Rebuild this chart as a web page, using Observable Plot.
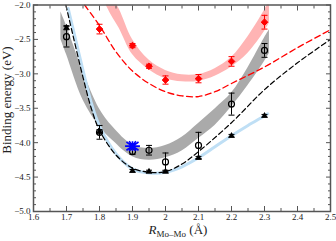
<!DOCTYPE html>
<html><head><meta charset="utf-8">
<script src="https://cdn.jsdelivr.net/npm/d3@7"></script>
<script src="https://cdn.jsdelivr.net/npm/@observablehq/plot@0.6"></script>
<style>body{margin:0;background:#fff}#chart{width:336px;height:241px}</style>
</head><body><div id="chart"></div>
<script>
// ticks
const xMajor = [1.6,1.7,1.8,1.9,2.0,2.1,2.2,2.3,2.4,2.5];
const xMinor = [1.65,1.75,1.85,1.95,2.05,2.15,2.25,2.35,2.45];
const yMajor = [-5,-4.5,-4,-3.5,-3,-2.5,-2];
const yMinor = [-4.9,-4.8,-4.7,-4.6,-4.4,-4.3,-4.2,-4.1,-3.9,-3.8,-3.7,-3.6,-3.4,-3.3,-3.2,-3.1,-2.9,-2.8,-2.7,-2.6,-2.4,-2.3,-2.2,-2.1];

// red diamonds
const redX = [1.8,1.9,1.95,2.0,2.1,2.2,2.3];
const redY = [-2.35,-2.59,-2.89,-3.09,-3.07,-2.82,-2.25];
const redErr = [0.07,0.03,0.03,0.06,0.06,0.07,0.1];
// open circles
const circX = [1.7,1.8,1.9,1.95,2.0,2.1,2.2,2.3];
const circY = [-2.46,-3.85,-4.13,-4.11,-4.28,-4.04,-3.44,-2.66];
const circErr = [0.15,0.1,0.04,0.07,0.13,0.19,0.16,0.1];
// triangles
const triX = [1.7,1.8,1.9,1.95,2.0,2.1,2.2,2.3];
const triY = [-2.33,-3.84,-4.41,-4.42,-4.42,-4.22,-3.90,-3.61];
const triErr = [0.03,0.03,0.02,0.02,0.02,0.02,0.02,0.02];
// blue star
const starX = [1.9];
const starY = [-4.05];

// pink band
const pinkX  = [1.82,1.835,1.86,1.9,1.95,2.0,2.05,2.1,2.15,2.2,2.25,2.3,2.315];
const pinkLo = [-2.0,-2.14,-2.34,-2.72,-2.94,-3.07,-3.115,-3.11,-3.035,-2.90,-2.70,-2.385,-2.26];
const pinkHi = [-1.70,-1.86,-2.06,-2.50,-2.80,-2.95,-3.015,-3.01,-2.925,-2.76,-2.46,-2.075,-1.94];
// gray band
const grayX  = [1.683,1.7,1.75,1.8,1.84,1.9,1.95,2.0,2.05,2.1,2.15,2.2,2.25,2.3,2.315];
const grayLo = [-2.50,-2.72,-3.38,-3.77,-3.97,-4.206,-4.257,-4.22,-4.12,-3.94,-3.75,-3.48,-3.17,-2.82,-2.70];
const grayHi = [-2.10,-2.30,-2.96,-3.51,-3.77,-4.034,-4.083,-4.04,-3.92,-3.72,-3.51,-3.28,-2.91,-2.48,-2.36];
// light blue curve
const blueX = [1.705,1.72,1.75,1.775,1.8,1.85,1.9,1.95,2.0,2.05,2.1,2.15,2.2,2.25,2.3,2.31];
const blueY = [-2.05,-2.35,-2.95,-3.42,-3.76,-4.16,-4.38,-4.44,-4.43,-4.35,-4.22,-4.06,-3.9,-3.75,-3.61,-3.58];
// black dashed curve
const bdX = [1.698,1.72,1.75,1.775,1.8,1.85,1.9,1.95,2.0,2.05,2.1,2.2,2.3,2.4,2.5];
const bdY = [-2.0,-2.45,-3.05,-3.5,-3.82,-4.18,-4.37,-4.43,-4.42,-4.31,-4.13,-3.71,-3.23,-2.84,-2.5];
// red dashed curve
const rdX = [1.755,1.8,1.85,1.9,1.95,2.0,2.05,2.1,2.15,2.2,2.3,2.4,2.5];
const rdY = [-2.0,-2.3,-2.68,-2.96,-3.14,-3.26,-3.32,-3.33,-3.26,-3.14,-2.9,-2.62,-2.36];

const zip2 = (xs, ys) => xs.map((x,i) => ({x, y: ys[i]}));
const band = (xs, lo, hi) => xs.map((x,i) => ({x, lo: lo[i], hi: hi[i]}));
const errs = (xs, ys, es) => xs.map((x,i) => ({x, y: ys[i], e: es[i]}));

const redD = errs(redX, redY, redErr);
const circD = errs(circX, circY, circErr);
const triD = errs(triX, triY, triErr);

const cap = {draw(ctx, size){ const r = Math.sqrt(size/Math.PI); ctx.moveTo(-r,0); ctx.lineTo(r,0); }};
const star8 = {draw(ctx, size){ const r = Math.sqrt(size/Math.PI);
  ctx.moveTo(-r*1.35,0); ctx.lineTo(r*1.35,0);
  ctx.moveTo(0,-r*0.9); ctx.lineTo(0,r*0.9);
  ctx.moveTo(-r*1.1,-r*0.75); ctx.lineTo(r*1.1,r*0.75);
  ctx.moveTo(-r*1.1,r*0.75); ctx.lineTo(r*1.1,-r*0.75);
  ctx.moveTo(-r*0.6,-r*0.9); ctx.lineTo(r*0.6,r*0.9);
  ctx.moveTo(-r*0.6,r*0.9); ctx.lineTo(r*0.6,-r*0.9);
}};

const axisColor = "#555";
const txt = "#222";
const fmtY = d => d.toFixed(1).replace("-", "\u2212");
const fmtX = d => String(+d.toFixed(2));
const curve = "catmull-rom";

function errMarks(data, color, w) {
  return [
    Plot.ruleX(data, {x: "x", y1: d => d.y - d.e, y2: d => d.y + d.e, stroke: color, strokeWidth: w}),
    Plot.dot(data, {x: "x", y: d => d.y + d.e, symbol: cap, r: 3, fill: "none", stroke: color, strokeWidth: w}),
    Plot.dot(data, {x: "x", y: d => d.y - d.e, symbol: cap, r: 3, fill: "none", stroke: color, strokeWidth: w})
  ];
}

const chart = Plot.plot({
  width: 336, height: 241,
  marginLeft: 33, marginRight: 6, marginTop: 4.5, marginBottom: 30,
  style: {fontFamily: "Liberation Serif", fontSize: "9px", background: "#fff"},
  x: {domain: [1.6, 2.5], label: null},
  y: {domain: [-5, -2], label: null},
  marks: [
    Plot.areaY(band(pinkX, pinkLo, pinkHi), {x: "x", y1: "lo", y2: "hi", fill: "#ffb4b4", curve, clip: true}),
    Plot.areaY(band(grayX, grayLo, grayHi), {x: "x", y1: "lo", y2: "hi", fill: "#aaaaaa", curve, clip: true}),
    Plot.line(zip2(blueX, blueY), {x: "x", y: "y", stroke: "#bfdff5", strokeWidth: 3, curve, clip: true}),
    Plot.line(zip2(bdX, bdY), {x: "x", y: "y", stroke: "#000", strokeWidth: 1.2, strokeDasharray: "5,3", curve, clip: true}),
    Plot.line(zip2(rdX, rdY), {x: "x", y: "y", stroke: "#f00", strokeWidth: 1.3, strokeDasharray: "6,3.5", curve, clip: true}),
    ...errMarks(triD, "#000", 1),
    Plot.dot(triD, {x: "x", y: "y", symbol: "triangle", r: 2.5, fill: "#000", stroke: "none"}),
    ...errMarks(circD, "#000", 1),
    Plot.dot(circD, {x: "x", y: "y", symbol: "circle", r: 3, fill: "none", stroke: "#000", strokeWidth: 1.2}),
    ...errMarks(redD, "#f00", 1),
    Plot.dot(redD, {x: "x", y: "y", symbol: "diamond2", r: 3, fill: "#f00", stroke: "#f00", strokeWidth: 1}),
    Plot.dot(zip2(starX, starY), {x: "x", y: "y", symbol: star8, r: 5.5, fill: "none", stroke: "#0000ff", strokeWidth: 1.6}),
    Plot.frame({stroke: axisColor, strokeWidth: 1.5}),
    Plot.axisX(xMajor, {anchor: "bottom", tickSize: -5, fill: "none", stroke: axisColor, label: null}),
    Plot.axisX(xMinor, {anchor: "bottom", tickSize: -3, fill: "none", stroke: axisColor, label: null}),
    Plot.axisX(xMajor, {anchor: "top", tickSize: -5, fill: "none", stroke: axisColor, label: null}),
    Plot.axisX(xMinor, {anchor: "top", tickSize: -3, fill: "none", stroke: axisColor, label: null}),
    Plot.axisY(yMajor, {anchor: "left", tickSize: -5, fill: "none", stroke: axisColor, label: null}),
    Plot.axisY(yMinor, {anchor: "left", tickSize: -3, fill: "none", stroke: axisColor, label: null}),
    Plot.axisY(yMajor, {anchor: "right", tickSize: -5, fill: "none", stroke: axisColor, label: null}),
    Plot.axisY(yMinor, {anchor: "right", tickSize: -3, fill: "none", stroke: axisColor, label: null}),
    Plot.axisX(xMajor, {anchor: "bottom", tickSize: 0, tickPadding: 2.5, tickFormat: fmtX, fill: txt, label: null}),
    Plot.axisY(yMajor, {anchor: "left", tickSize: 0, tickPadding: 3, tickFormat: fmtY, fill: txt, label: null})
  ]
});

const svg = d3.select(chart);
const xl = svg.append("text")
  .attr("x", 178).attr("y", 234)
  .attr("text-anchor", "middle")
  .attr("font-family", "Liberation Serif").attr("font-size", 13).attr("fill", txt);
xl.append("tspan").attr("font-style", "italic").text("R");
xl.append("tspan").attr("font-size", 9).attr("dy", 3).text("Mo\u2013Mo");
xl.append("tspan").attr("dy", -3).text(" (\u00C5)");

svg.append("text")
  .attr("transform", "translate(11,100) rotate(-90)")
  .attr("text-anchor", "middle")
  .attr("font-family", "Liberation Serif").attr("font-size", 13).attr("fill", txt)
  .text("Binding energy (eV)");

document.getElementById("chart").appendChild(chart);
</script>
</body></html>
